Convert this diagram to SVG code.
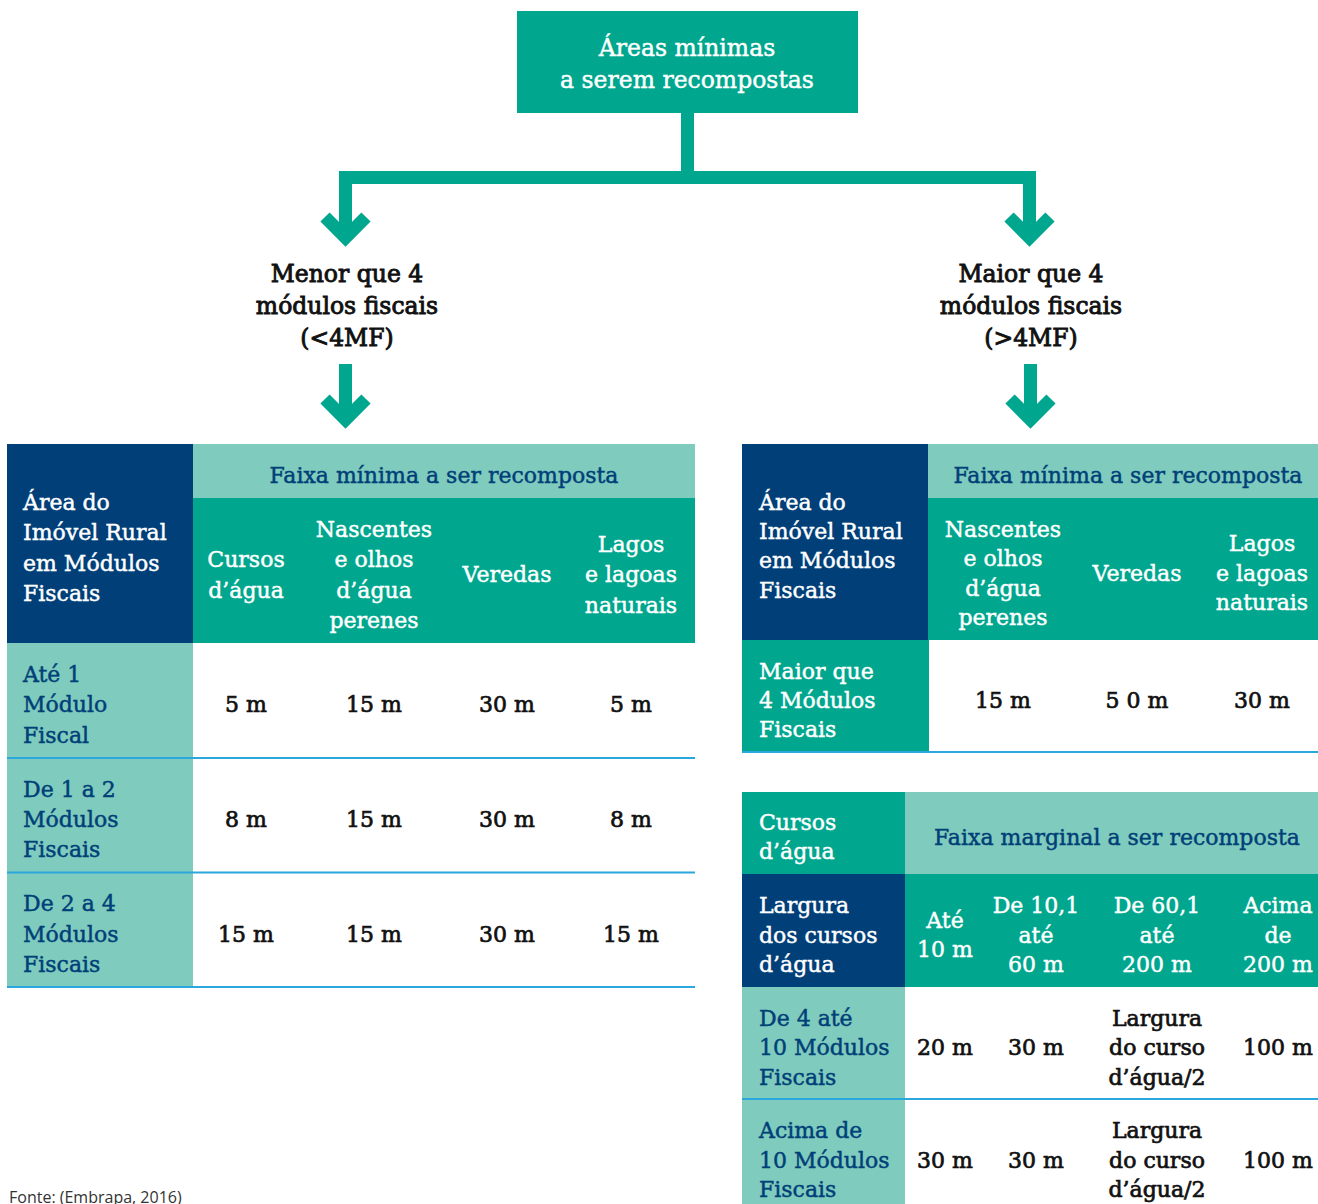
<svg xmlns="http://www.w3.org/2000/svg" width="1318" height="1204" viewBox="0 0 1318 1204">
<defs>
<style>
text{font-family:"DejaVu Serif","Liberation Serif",serif;font-size:22px;stroke-width:0.45px;}
.w{fill:#ffffff;stroke:#ffffff;}
.b{fill:#003f78;stroke:#003f78;}
.k{fill:#111111;stroke:#111111;stroke-width:0.7px;}
.c{text-anchor:middle;}
.lbl{font-size:23.5px;fill:#111111;stroke:#111111;stroke-width:0.9px;text-anchor:middle;}
.g{fill:#00a78e;}
.t{fill:#7fcbbd;}
.d{fill:#003f78;}
.sep{stroke:#2aa7dc;stroke-width:2;}
.conn{fill:none;stroke:#00a78e;stroke-width:13;}
.head{fill:none;stroke:#00a78e;stroke-width:13;stroke-linejoin:miter;stroke-miterlimit:4;}
.src{font-family:"Open Sans","Noto Sans",sans-serif;font-size:16px;fill:#333333;stroke:none;}
</style>
</defs>
<rect width="1318" height="1204" fill="#ffffff"/>

<g id="connectors">
<path class="conn" d="M687.5,113 V177.5 M339,177.5 H1036 M345.5,171 V236 M1029.5,171 V236"/>
<polyline class="head" points="325,217 345.5,237.5 366,217"/>
<polyline class="head" points="1009,217 1029.5,237.5 1050,217"/>
<path class="conn" d="M345.5,364 V420"/>
<polyline class="head" points="325,399 345.5,419.5 366,399"/>
<path class="conn" d="M1030.5,364 V420"/>
<polyline class="head" points="1010,399 1030.5,419.5 1051,399"/>
</g>

<g id="node-top">
<rect class="g" x="517" y="11" width="341" height="102"/>
<text class="w c" x="687" y="56" style="font-size:23.5px">Áreas mínimas</text>
<text class="w c" x="687" y="88" style="font-size:23.5px">a serem recompostas</text>
</g>

<g id="node-menor">
<text class="lbl" x="347" y="282">Menor que 4</text>
<text class="lbl" x="347" y="314">módulos fiscais</text>
<text class="lbl" x="347" y="346">(&lt;4MF)</text>
</g>

<g id="node-maior">
<text class="lbl" x="1031" y="282">Maior que 4</text>
<text class="lbl" x="1031" y="314">módulos fiscais</text>
<text class="lbl" x="1031" y="346">(&gt;4MF)</text>
</g>

<g id="table-left">
<rect class="d" x="7" y="444" width="186" height="199"/>
<rect class="t" x="193" y="444" width="502" height="54"/>
<rect class="g" x="193" y="498" width="502" height="145"/>
<rect class="t" x="7" y="643" width="186" height="344"/>
<text class="w" x="23" y="510">Área do</text>
<text class="w" x="23" y="540">Imóvel Rural</text>
<text class="w" x="23" y="571">em Módulos</text>
<text class="w" x="23" y="601">Fiscais</text>
<text class="b c" x="444" y="483">Faixa mínima a ser recomposta</text>
<text class="w c" x="246" y="567">Cursos</text>
<text class="w c" x="246" y="598">d’água</text>
<text class="w c" x="374" y="537">Nascentes</text>
<text class="w c" x="374" y="567">e olhos</text>
<text class="w c" x="374" y="598">d’água</text>
<text class="w c" x="374" y="628">perenes</text>
<text class="w c" x="507" y="582">Veredas</text>
<text class="w c" x="631" y="552">Lagos</text>
<text class="w c" x="631" y="582">e lagoas</text>
<text class="w c" x="631" y="613">naturais</text>

<text class="b" x="23" y="682">Até 1</text>
<text class="b" x="23" y="712">Módulo</text>
<text class="b" x="23" y="743">Fiscal</text>
<text class="k c" x="246" y="712">5 m</text>
<text class="k c" x="374" y="712">15 m</text>
<text class="k c" x="507" y="712">30 m</text>
<text class="k c" x="631" y="712">5 m</text>
<line class="sep" x1="7" y1="758" x2="695" y2="758"/>

<text class="b" x="23" y="797">De 1 a 2</text>
<text class="b" x="23" y="827">Módulos</text>
<text class="b" x="23" y="857">Fiscais</text>
<text class="k c" x="246" y="827">8 m</text>
<text class="k c" x="374" y="827">15 m</text>
<text class="k c" x="507" y="827">30 m</text>
<text class="k c" x="631" y="827">8 m</text>
<line class="sep" x1="7" y1="872.5" x2="695" y2="872.5"/>

<text class="b" x="23" y="911">De 2 a 4</text>
<text class="b" x="23" y="942">Módulos</text>
<text class="b" x="23" y="972">Fiscais</text>
<text class="k c" x="246" y="942">15 m</text>
<text class="k c" x="374" y="942">15 m</text>
<text class="k c" x="507" y="942">30 m</text>
<text class="k c" x="631" y="942">15 m</text>
<line class="sep" x1="7" y1="987" x2="695" y2="987"/>
</g>

<g id="table-right-1">
<rect class="d" x="742" y="444" width="186" height="196"/>
<rect class="t" x="928" y="444" width="390" height="54"/>
<rect class="g" x="928" y="498" width="390" height="142"/>
<rect class="g" x="742" y="640" width="187" height="112"/>
<text class="w" x="759" y="510">Área do</text>
<text class="w" x="759" y="539">Imóvel Rural</text>
<text class="w" x="759" y="568">em Módulos</text>
<text class="w" x="759" y="598">Fiscais</text>
<text class="b c" x="1128" y="483">Faixa mínima a ser recomposta</text>
<text class="w c" x="1003" y="537">Nascentes</text>
<text class="w c" x="1003" y="566">e olhos</text>
<text class="w c" x="1003" y="596">d’água</text>
<text class="w c" x="1003" y="625">perenes</text>
<text class="w c" x="1137" y="581">Veredas</text>
<text class="w c" x="1262" y="551">Lagos</text>
<text class="w c" x="1262" y="581">e lagoas</text>
<text class="w c" x="1262" y="610">naturais</text>
<text class="w" x="759" y="679">Maior que</text>
<text class="w" x="759" y="708">4 Módulos</text>
<text class="w" x="759" y="737">Fiscais</text>
<text class="k c" x="1003" y="708">15 m</text>
<text class="k c" x="1137" y="708">5 0 m</text>
<text class="k c" x="1262" y="708">30 m</text>
<line class="sep" x1="742" y1="752" x2="1318" y2="752"/>
</g>

<g id="table-right-2">
<rect class="g" x="742" y="792" width="163" height="82"/>
<rect class="t" x="905" y="792" width="413" height="82"/>
<rect class="d" x="742" y="874" width="163" height="113"/>
<rect class="g" x="905" y="874" width="413" height="113"/>
<rect class="t" x="742" y="987" width="163" height="217"/>
<text class="w" x="759" y="830">Cursos</text>
<text class="w" x="759" y="859">d’água</text>
<text class="b c" x="1117" y="845">Faixa marginal a ser recomposta</text>
<text class="w" x="759" y="913">Largura</text>
<text class="w" x="759" y="943">dos cursos</text>
<text class="w" x="759" y="972">d’água</text>
<text class="w c" x="945" y="928">Até</text>
<text class="w c" x="945" y="957">10 m</text>
<text class="w c" x="1036" y="913">De 10,1</text>
<text class="w c" x="1036" y="943">até</text>
<text class="w c" x="1036" y="972">60 m</text>
<text class="w c" x="1157" y="913">De 60,1</text>
<text class="w c" x="1157" y="943">até</text>
<text class="w c" x="1157" y="972">200 m</text>
<text class="w c" x="1278" y="913">Acima</text>
<text class="w c" x="1278" y="943">de</text>
<text class="w c" x="1278" y="972">200 m</text>

<text class="b" x="759" y="1026">De 4 até</text>
<text class="b" x="759" y="1055">10 Módulos</text>
<text class="b" x="759" y="1085">Fiscais</text>
<text class="k c" x="945" y="1055">20 m</text>
<text class="k c" x="1036" y="1055">30 m</text>
<text class="k c" x="1157" y="1026">Largura</text>
<text class="k c" x="1157" y="1055">do curso</text>
<text class="k c" x="1157" y="1085">d’água/2</text>
<text class="k c" x="1278" y="1055">100 m</text>
<line class="sep" x1="742" y1="1099" x2="1318" y2="1099"/>

<text class="b" x="759" y="1138">Acima de</text>
<text class="b" x="759" y="1168">10 Módulos</text>
<text class="b" x="759" y="1197">Fiscais</text>
<text class="k c" x="945" y="1168">30 m</text>
<text class="k c" x="1036" y="1168">30 m</text>
<text class="k c" x="1157" y="1138">Largura</text>
<text class="k c" x="1157" y="1168">do curso</text>
<text class="k c" x="1157" y="1197">d’água/2</text>
<text class="k c" x="1278" y="1168">100 m</text>
</g>

<text class="src" x="9" y="1203">Fonte: (Embrapa, 2016)</text>
</svg>
